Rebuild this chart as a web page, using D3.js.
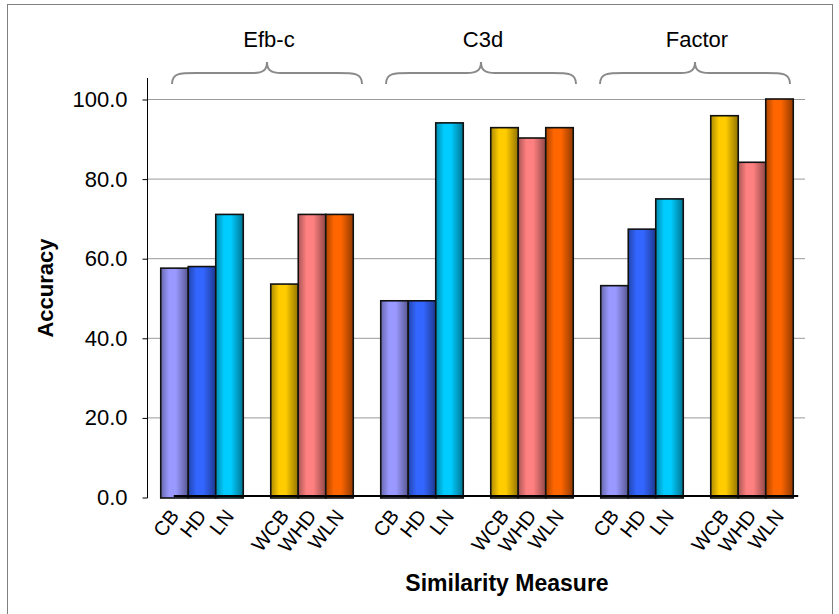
<!DOCTYPE html>
<html>
<head>
<meta charset="utf-8">
<script src="https://cdn.jsdelivr.net/npm/d3@7"></script>
<style>
  body { margin: 0; background: #fff; }
  text { font-family: "Liberation Sans", Arial, sans-serif; fill: #000; }
</style>
</head>
<body>
<div class="chart1"></div>
<script>
// data
var groups = ["Efb-c", "C3d", "Factor"];
var clusters = ["Efb-c U", "Efb-c W", "C3d U", "C3d W", "Factor U", "Factor W"];
var measuresU = ["CB", "HD", "LN"];
var measuresW = ["WCB", "WHD", "WLN"];
var valuesU = [[57.5, 57.9, 71.0], [49.3, 49.3, 94.0], [53.1, 67.3, 74.9]];
var valuesW = [[53.5, 71.0, 71.0], [92.8, 90.2, 92.8], [95.8, 84.1, 100.0]];
var yTicks = [0, 20, 40, 60, 80, 100];
var colorsU = ["#9999ff", "#3366ff", "#00ccff"];
var colorsW = ["#ffcc00", "#ff8080", "#ff6600"];

var W = 839, H = 614;
var svg = d3.select(".chart1").append("svg").attr("width", W).attr("height", H);

// outer frame
svg.append("rect").attr("x", 7.5).attr("y", 4.5).attr("width", 825).attr("height", 620)
  .attr("fill", "#fff").attr("stroke", "#7f7f7f").attr("stroke-width", 1);

//L R T B of plot
var plotL = 147, plotR = 807, plotT = 99, plotB = 497;

var x = d3.scaleBand().domain(clusters).range([plotL, plotR]).paddingInner(0.25).paddingOuter(0.125);
var y = d3.scaleLinear().domain([0, 100]).range([plotB, plotT]);

// flatten bars
var bars = [];
groups.forEach(function (g, gi) {
  measuresU.forEach(function (m, i) {
    bars.push({cluster: clusters[gi * 2], label: m, value: valuesU[gi][i], color: colorsU[i], idx: i});
  });
  measuresW.forEach(function (m, i) {
    bars.push({cluster: clusters[gi * 2 + 1], label: m, value: valuesW[gi][i], color: colorsW[i], idx: i});
  });
});
var inner = d3.scaleBand().domain([0, 1, 2]).range([0, x.bandwidth()]);

// gradients for the cylinder look
var defs = svg.append("defs");
colorsU.concat(colorsW).forEach(function (c, i) {
  var lg = defs.append("linearGradient").attr("id", "g" + i)
    .attr("x1", "0%").attr("x2", "100%").attr("y1", "0%").attr("y2", "0%");
  var base = d3.rgb(c);
  lg.append("stop").attr("offset", "0%").attr("stop-color", base.darker(1.1));
  lg.append("stop").attr("offset", "30%").attr("stop-color", base);
  lg.append("stop").attr("offset", "55%").attr("stop-color", base);
  lg.append("stop").attr("offset", "100%").attr("stop-color", base.darker(1.6));
});
var gradId = {};
colorsU.concat(colorsW).forEach(function (c, i) { gradId[c] = "url(#g" + i + ")"; });

// gridlines
svg.append("g").selectAll("line").data(yTicks.filter(function (d) { return d > 0; }))
  .enter().append("line")
  .attr("x1", plotL).attr("x2", plotR - 2)
  .attr("y1", function (d) { return y(d) + 0.5; }).attr("y2", function (d) { return y(d) + 0.5; })
  .attr("stroke", "#9a9a9a").attr("stroke-width", 1);

// y axis
var yAxis = d3.axisLeft(y).tickValues(yTicks).tickFormat(d3.format(".1f")).tickSize(5).tickPadding(15);
var ya = svg.append("g").attr("transform", "translate(" + (plotL + 0.5) + ",0.5)").call(yAxis);
ya.select(".domain").remove();
ya.selectAll(".tick line").attr("stroke", "#000");
ya.selectAll("text").style("font-size", "22px").attr("fill", "#000");
ya.attr("font-size", null).attr("font-family", null);
svg.append("line").attr("x1", plotL + 0.5).attr("x2", plotL + 0.5).attr("y1", 78).attr("y2", plotB + 1)
  .attr("stroke", "#000").attr("stroke-width", 1);

// bars
svg.append("g").selectAll("rect").data(bars).enter().append("rect")
  .attr("x", function (d) { return x(d.cluster) + inner(d.idx); })
  .attr("y", function (d) { return y(d.value); })
  .attr("width", inner.bandwidth())
  .attr("height", function (d) { return plotB + 1 - y(d.value); })
  .attr("fill", function (d) { return gradId[d.color]; })
  .attr("stroke", "#111").attr("stroke-width", 1.6);

// x baseline
svg.append("line")
  .attr("x1", x(clusters[0]) + 13).attr("x2", x(clusters[5]) + x.bandwidth() + 5)
  .attr("y1", plotB - 1).attr("y2", plotB - 1)
  .attr("stroke", "#000").attr("stroke-width", 2);

// x tick labels
svg.append("g").selectAll("text").data(bars).enter().append("text")
  .attr("transform", function (d) {
    var cx = x(d.cluster) + inner(d.idx) + inner.bandwidth() / 2;
    return "translate(" + cx + "," + (plotB + 15) + ") rotate(-52)";
  })
  .attr("text-anchor", "end").attr("dy", "0.35em")
  .style("font-size", "20px")
  .text(function (d) { return d.label; });

// braces + group labels
function bracePath(x0, x1, yb) {
  var xm = (x0 + x1) / 2, h = 11, t = 11;
  return "M" + x0 + "," + yb +
    " C" + x0 + "," + (yb - h) + " " + (x0 + 8) + "," + (yb - h) + " " + (x0 + 24) + "," + (yb - h) +
    " L" + (xm - 14) + "," + (yb - h) +
    " C" + (xm - 4) + "," + (yb - h) + " " + xm + "," + (yb - h - 3) + " " + xm + "," + (yb - h - t) +
    " C" + xm + "," + (yb - h - 3) + " " + (xm + 4) + "," + (yb - h) + " " + (xm + 14) + "," + (yb - h) +
    " L" + (x1 - 24) + "," + (yb - h) +
    " C" + (x1 - 8) + "," + (yb - h) + " " + x1 + "," + (yb - h) + " " + x1 + "," + yb;
}
groups.forEach(function (g, gi) {
  // braces in the original drift a bit left of the cluster pairs
  var mid = (x(clusters[gi * 2]) + x(clusters[gi * 2 + 1]) + x.bandwidth()) / 2 + 10 - 6 * gi;
  var x0 = mid - 95, x1 = mid + 95;
  svg.append("path").attr("d", bracePath(x0, x1, 84))
    .attr("fill", "none").attr("stroke", "#8a8a8a").attr("stroke-width", 2);
  svg.append("text").attr("x", mid + 2).attr("y", 47)
    .attr("text-anchor", "middle").style("font-size", "22px").text(g);
});

// axis titles
svg.append("text").attr("transform", "translate(53,288) rotate(-90)")
  .attr("text-anchor", "middle").style("font-size", "22px").style("font-weight", "bold")
  .text("Accuracy");
svg.append("text").attr("x", 507).attr("y", 591)
  .attr("text-anchor", "middle").style("font-size", "23px").style("font-weight", "bold")
  .text("Similarity Measure");
</script>
</body>
</html>
